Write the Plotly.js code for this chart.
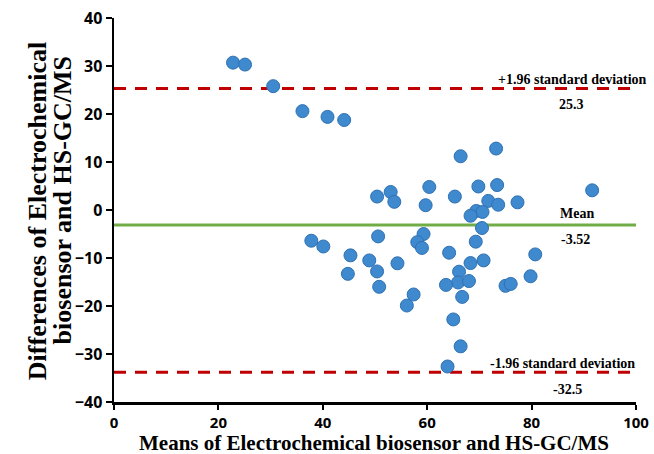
<!DOCTYPE html>
<html><head><meta charset="utf-8">
<script src="https://cdn.plot.ly/plotly-3.0.1.min.js"></script>
<style>body{margin:0;background:#fff}#c{width:654px;height:454px}</style>
</head><body><div id="c"></div>
<script>
const meanX = [22.8,25.1,30.5,36.1,40.9,44.1,66.4,73.2,50.4,53.0,53.7,60.4,59.7,65.3,69.8,73.4,71.7,73.6,77.3,91.6,69.4,70.6,68.3,70.5,
  37.8,40.1,50.6,59.3,58.1,59.0,64.2,69.3,45.3,48.9,54.3,50.4,44.8,50.8,68.3,70.8,80.7,66.1,65.9,68.0,63.6,66.7,57.4,56.1,65.0,66.4,63.9,75.0,76.0,79.8];
const diffY = [30.7,30.3,25.8,20.6,19.4,18.75,11.2,12.8,2.8,3.75,1.7,4.8,1.0,2.8,4.9,5.2,1.9,1.1,1.6,4.1,-0.2,-0.4,-1.2,-3.75,
  -6.4,-7.6,-5.5,-5.0,-6.7,-7.9,-8.9,-6.6,-9.45,-10.5,-11.1,-12.8,-13.3,-16.0,-11.05,-10.5,-9.25,-12.85,-15.1,-14.8,-15.6,-18.1,-17.6,-19.9,-22.8,-28.4,-32.6,-15.8,-15.4,-13.8];
const upperLoA = 25.3;
const meanLine = -3.1;
const lowerLoA = -33.8;
const labels = ["+1.96 standard deviation","25.3","Mean","-3.52","-1.96 standard deviation","-32.5"];
const xTitle = "Means of Electrochemical biosensor and HS-GC/MS";
const yTitleLines = ["Differences of Electrochemical","biosensor and HS-GC/MS"];
const xTicks = [0,20,40,60,80,100];
const yTicks = [-40,-30,-20,-10,0,10,20,30,40];

const serif = "Liberation Serif, Times New Roman, serif";
const sans = "Open Sans, Liberation Sans, Arial, sans-serif";

const data = [{
  x: meanX, y: diffY, type: 'scatter', mode: 'markers',
  marker: {size: 13, color: '#3f89cf', line: {color: '#2f71b2', width: 1}},
  hoverinfo: 'skip'
}];

const annFont = {family: serif, size: 14, color: '#000', weight: 'bold'};
const titleFont = {family: serif, size: 21, color: '#000', weight: 'bold'};
const yTitleFont = {family: serif, size: 26, color: '#000', weight: 'bold'};
const tickFont = {family: sans, size: 15, color: '#000', weight: 'bold'};
const ann = (x, y, text, font) => ({x, y, xref: 'x', yref: 'y', text, showarrow: false, xanchor: 'center', yanchor: 'middle', font});

const layout = {
  width: 654, height: 454,
  margin: {l: 114, r: 18, t: 18, b: 52},
  paper_bgcolor: '#fff', plot_bgcolor: '#fff',
  showlegend: false,
  xaxis: {
    range: [0, 100], tickvals: xTicks, showgrid: false, zeroline: false,
    showline: true, linecolor: '#000', linewidth: 2.5,
    ticks: 'outside', ticklen: 5, tickwidth: 2, tickcolor: '#000',
    tickfont: tickFont, automargin: false
  },
  yaxis: {
    range: [-40, 40], tickvals: yTicks, showgrid: false, zeroline: false,
    showline: true, linecolor: '#000', linewidth: 2.5,
    ticks: 'outside', ticklen: 6, tickwidth: 2, tickcolor: '#000',
    tickfont: {family: sans, size: 16, color: '#000', weight: 'bold'}, automargin: false
  },
  shapes: [
    {type: 'line', xref: 'paper', x0: 0, x1: 0.99, yref: 'y', y0: upperLoA, y1: upperLoA, line: {color: '#c00000', width: 3, dash: '12px,9px'}, layer: 'below'},
    {type: 'line', xref: 'paper', x0: 0, x1: 1, yref: 'y', y0: meanLine, y1: meanLine, line: {color: '#70ad47', width: 3}, layer: 'below'},
    {type: 'line', xref: 'paper', x0: 0, x1: 0.99, yref: 'y', y0: lowerLoA, y1: lowerLoA, line: {color: '#c00000', width: 3, dash: '12px,9px'}, layer: 'below'}
  ],
  annotations: [
    ann(87.9, upperLoA + 1.8, labels[0], annFont),
    ann(87.7, upperLoA - 3.4, labels[1], annFont),
    ann(88.7, meanLine + 2.3, labels[2], annFont),
    ann(88.5, meanLine - 3.1, labels[3], annFont),
    ann(86.0, lowerLoA + 1.9, labels[4], annFont),
    ann(86.8, lowerLoA - 3.6, labels[5], annFont),
    {x: 0.498, y: -0.1055, xref: 'paper', yref: 'paper', text: xTitle, showarrow: false, xanchor: 'center', yanchor: 'middle', borderpad: 0, font: titleFont},
    {x: -0.1475, y: 0.497, xref: 'paper', yref: 'paper', text: yTitleLines[0], textangle: -90, showarrow: false, xanchor: 'center', yanchor: 'middle', font: yTitleFont},
    {x: -0.0996, y: 0.525, xref: 'paper', yref: 'paper', text: yTitleLines[1], textangle: -90, showarrow: false, xanchor: 'center', yanchor: 'middle', font: yTitleFont}
  ]
};
Plotly.newPlot('c', data, layout, {displayModeBar: false, staticPlot: true});
</script>
</body></html>
